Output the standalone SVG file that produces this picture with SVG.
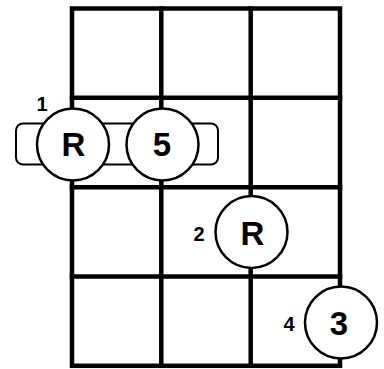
<svg xmlns="http://www.w3.org/2000/svg" width="384" height="369" viewBox="0 0 384 369">
<style>
.grid{stroke:#000;stroke-width:4.5;fill:none;stroke-linecap:square}
.barre{fill:#fff;stroke:#000;stroke-width:2}
.dot{fill:#fff;stroke:#000;stroke-width:2.5}
.note{font-family:"Liberation Sans",Arial,sans-serif;font-weight:bold;font-size:33px;text-anchor:middle;fill:#000}
.fin{font-family:"Liberation Sans",Arial,sans-serif;font-weight:bold;font-size:20px;text-anchor:middle;fill:#000}
</style>
<rect width="384" height="369" fill="#fff"/>
<g id="grid" class="grid">
<rect x="72" y="8.5" width="268" height="357.3"/>
<line x1="161.3" y1="8.5" x2="161.3" y2="365.8"/>
<line x1="250.7" y1="8.5" x2="250.7" y2="365.8"/>
<line x1="72" y1="97.8" x2="340" y2="97.8"/>
<line x1="72" y1="187.2" x2="340" y2="187.2"/>
<line x1="72" y1="276.5" x2="340" y2="276.5"/>
</g>
<g id="barre">
<rect class="barre" x="16" y="123.5" width="202" height="41" rx="7"/>
</g>
<g id="n1">
<circle class="dot" cx="73" cy="144.5" r="36"/>
<text class="note" x="73.5" y="155.5">R</text>
<text class="fin" x="42" y="110.5">1</text>
</g>
<g id="n2">
<circle class="dot" cx="162.5" cy="144.5" r="36"/>
<text class="note" x="162" y="155.5">5</text>
</g>
<g id="n3">
<circle class="dot" cx="251.5" cy="232" r="36"/>
<text class="note" x="252.5" y="245">R</text>
<text class="fin" x="199" y="240.5">2</text>
</g>
<g id="n4">
<circle class="dot" cx="341" cy="322.5" r="36"/>
<text class="note" x="339" y="334.5">3</text>
<text class="fin" x="289" y="330.5">4</text>
</g>
</svg>
